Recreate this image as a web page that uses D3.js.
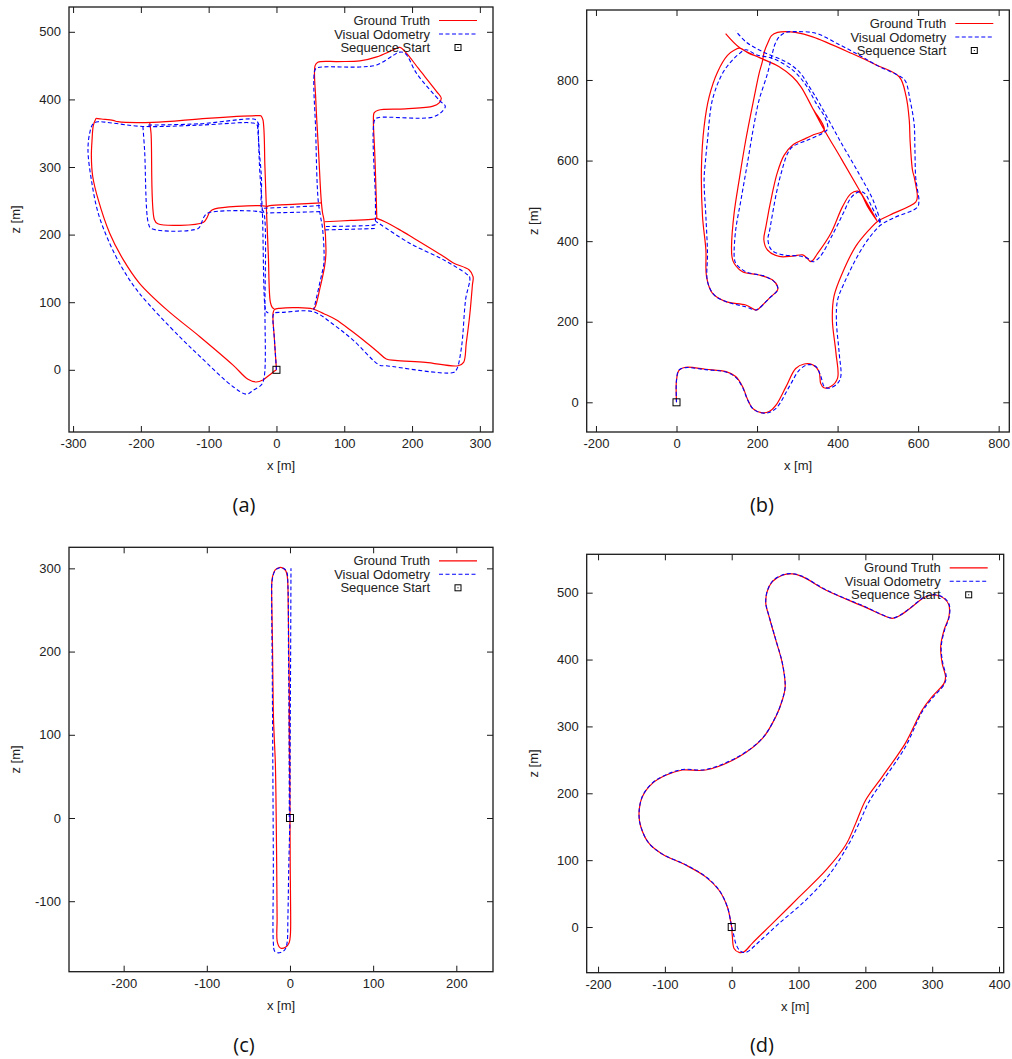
<!DOCTYPE html>
<html><head><meta charset="utf-8">
<script src="https://cdn.jsdelivr.net/npm/d3@7"></script>
<style>
body{margin:0;background:#fff;}
svg text{font-family:"Liberation Sans",Arial,sans-serif;}
</style></head>
<body><svg id="c" width="1012" height="1059"></svg>
<script>
// ---------- DATA ----------
const legendLabels = ["Ground Truth", "Visual Odometry", "Sequence Start"];
const captions = ["(a)", "(b)", "(c)", "(d)"];
const xTicksA = [-300,-200,-100,0,100,200,300], yTicksA = [0,100,200,300,400,500];
const xTicksB = [-200,0,200,400,600,800],       yTicksB = [0,200,400,600,800];
const xTicksC = [-200,-100,0,100,200],          yTicksC = [-100,0,100,200,300];
const xTicksD = [-200,-100,0,100,200,300,400],  yTicksD = [0,100,200,300,400,500];

// (a) ground truth polylines [x, z]
const gtA = [
 [[0,0],[-3,45],[-5,84],[-3,89],[5,91],[30,92],[54,90],[70,83],[88,74],[110,58],[128,44],[150,26],[162,16],[175,14],[220,11],[268,6],[276,11],[280,40],[285,80],[289,125],[290,138],[284,148],[261,158],[246,168],[202,195],[182,207],[160,219],[148,224]],
 [[148,224],[143,223],[110,221],[71,219]],
 [[148,224],[147,260],[145,320],[143,370],[144,380],[150,384],[190,386],[231,390],[240,395],[243,402],[236,412],[210,445],[192,468],[182,477],[172,473],[148,463],[123,457],[90,456],[61,455],[57,450],[58,400],[62,325],[66,251],[68,232],[70,222],[73,173],[71,153],[64,120],[57,93],[54,90]],
 [[66,247],[30,245],[-10,243],[-15,241]],
 [[-23,376],[-20,370],[-17,300],[-15,243],[-12,170],[-9,100],[-6,92],[-3,90]],
 [[-266,372],[-258,371],[-241,369],[-234,367],[-182,366],[-103,372],[-30,376],[-23,376]],
 [[-187,366],[-185,350],[-180,222],[-175,216],[-108,218],[-103,224],[-98,234],[-91,238],[-25,243],[-15,242]],
 [[-266,372],[-270,362],[-272,340],[-273,316],[-271,286],[-263,252],[-246,202],[-226,163],[-202,128],[-162,89],[-113,49],[-64,7],[-42,-14],[-30,-18],[-20,-15],[-7,-5],[0,0]]
];
// (a) visual odometry polylines
const voA = [
 [[0,0],[-3,45],[-5,80],[-3,84],[10,85],[54,86],[84,67],[113,44],[152,7],[162,6],[261,-4],[266,1],[273,34],[279,104],[285,137],[280,142],[246,163],[197,187],[152,216],[146,220]],
 [[146,215],[143,214],[71,212]],
 [[146,220],[146,251],[145,370],[150,373],[231,374],[246,384],[249,390],[241,398],[207,438],[190,468],[182,470],[172,465],[148,451],[123,448],[61,447],[57,444],[58,350],[61.5,251],[65,227],[68,209],[70,158],[66,138],[55,89]],
 [[145,209],[110,208],[71,207]],
 [[64,243],[30,241],[-20,239]],
 [[64,234],[30,233],[-15,232]],
 [[-27,365],[-25,301],[-21,239],[-17,94],[-15,86],[-12,84]],
 [[-28,362],[-25,320],[-22,281],[-22,239],[-18.4,232],[-17,91],[-18,-10],[-22,-22],[-34,-30],[-44,-36],[-64,-25],[-113,20],[-143,49],[-202,113],[-226,148],[-246,187],[-263,232],[-273,281],[-278,325],[-275.5,350],[-270.5,364],[-263,367],[-246,365.5],[-197,360],[-113,362],[-34,365],[-28.5,362],[-27,355]],
 [[-189,362],[-113,364],[-34,371],[-29.5,369],[-25.6,362]],
 [[-197,360],[-194.5,325],[-189,217],[-184.5,209],[-115.6,209],[-110.7,217],[-107,226],[-101,232],[-25,234],[-20,232]]
];

// (b)
const gtB = [[
 [0,0],[0,55],[6.6,80],[23,87],[73,82],[123,76],[147,64],[164,39],[177,6],[189,-15],[213,-26],[230,-23],[247,-7],[272,39],[296,84],[317,95],[338,93],[354,76],[358,47],[366,36],[383,39],[400,60],[396,122],[387,205],[391,263],[412,321],[445,387],[480,430],[499,449],
 [530,465],[594,497],[598,510],[590,560],[586,576],[580,650],[578,700],[570,760],[553,808],
 [495,838],[437,865],[338,907],[295,918],[272,920],[251,918],[236,910],[228,895],[218,870],[213,845],[205,816],[193,758],[172,651],[155.6,552],[143,469],[136.6,386],[138,360],[143,345],[164,324],[205,316],[238,304],[251,287],[251,279],[230,258],[205,233],[197,229],[172,241.5],[122.5,250],[89,271],[74.5,312],[73,378],[64.6,461],[62,585],[68.5,684],[81,758],[102,820],[126.6,861],[145,875],[157,879],[180,866],[205,856],[255,833],[288,808],[309,783],[338,730],[367,676],
 [340,664],[321,655],[288,638],[267,613],[250,569],[238,519],[222,436],[217,403],[226,378],[255,362],[288,363],[313,366],[322,360],[334,349],[350,369],[383,419],[412,485],[433,518],[450,524],[458,518],[475,485],[499,449],
 [454,527],[410,603],[367,676],[338,730],[309,783],[288,808],[255,833],[205,856],[157,880],[122,915]
]];
const voB = [[
 [0,0],[0,55],[6,80],[23,86],[73,81],[123,75],[147,62],[164,37],[177,5],[192,-18],[222,-27],[247,-15],[280,39],[305,80],[325.5,93],[346,89],[358.5,64],[367,39],[379,35],[400,47],[408,64],[404,122],[397,205],[400,254],[416,295],[453,369],[480,410],[507,440],
 [540,458],[598,484],[602,500],[598,530],[594,558],[592,630],[590,692],[580,750],[569,796],[557,808],
 [500,835],[453,862],[400,890],[346,916],[300,920],[271.5,918],[255,907],[245,890],[238,866],[226,816],[205,750],[193,692],[176,593],[160,502],[147,428],[143,370],[144,355],[147,345],[172,324],[222,312],[247,295],[251,279],[230,258],[205,233],[197,229],[172,237],[122.5,250],[93.5,266.5],[77,299.5],[77,370],[73,461],[68.5,552],[72,600],[77,651],[89,750],[114,816],[135,845],[152,862],[172,875],[200,862],[238,854],[288,825],[321,788],[345,745],[371,702],
 [375,678],[363,668],[326,651],[289,635],[276.5,619],[260,569],[248,519],[231.5,428],[227,403],[236,378],[265,366],[306,363],[326.5,357],[339,349],[356,361],[389,419],[414,469],[435,510],[455.6,523],[468,518],[485,485],[507,444],
 [488,502],[455,564],[405,651],[355,742],[330,783],[305,820],[272,845],[214,870],[172,895],[147,922]
]];

// (c)
const gtC = [[
 [0,0],[-0.3,80],[-0.8,146],[-2,246],[-3.2,290],[-5,297],[-8,300],[-12.8,301],[-18,298],[-21,290],[-22,280],[-22,266],[-21,206],[-20,126],[-19,98],[-17.6,66],[-16,-54],[-15.5,-120],[-15,-150],[-11,-156.5],[-5,-155],[-1,-150],[0.5,-140],[0.8,-114],[0.3,-60],[0,0],[-0.5,60],[-1,130]
]];
const voC = [
 [[0,0],[-1.5,-60],[-2.5,-120],[-3.5,-150],[-6,-158],[-10,-161],[-15,-162],[-18.5,-160],[-20,-150],[-20,-60],[-20.5,40],[-21,126],[-21.5,200],[-22,266],[-21.5,285],[-18,297],[-13,300.5],[-8,300],[-4,296],[-2.5,280],[-1.8,200],[-1.2,120],[-0.8,0]],
 [[0,0],[0.3,100],[0.8,200],[1.2,300]]
];

// (d)
const gtD = [[
 [0,0],[1,-14.5],[3.5,-32],[11,-38],[18.5,-37],[31,-24],[61,5.5],[101,45],[141,85],[170.6,122.6],[185.5,155],[200.5,190],[225.4,225],[260,275],[285,324.5],[300,344.5],[317.7,364.4],[320,374],[315,394],[312.7,419],[317.7,444],[325,464],[325,481.6],[317.7,491.5],[305,496.5],[290,494],[270,479],[253,466.6],[240,461.6],[225.4,466.6],[200.5,478],[140.6,504],[105.7,524],[90.8,528],[75.8,526],[60.8,516.5],[53,501.5],[51,484],[56,464],[66,429],[75.8,394],[80,359],[75.8,339.5],[66,314.6],[46,282],[11,254.7],[-39,234.8],[-74,234.8],[-98.8,227],[-118.7,214.9],[-133.7,195],[-138.7,170],[-136,150],[-123.7,125],[-103.7,109],[-68.8,92.7],[-39,75],[-19,55],[-6.5,30],[-1.5,8],[0,0]
]];
const voD = [[
 [0,0],[2.5,-9.5],[6,-24.4],[11,-34],[17,-38],[23.4,-37],[41,-22],[71,5.5],[110.7,40],[145.6,77.8],[175.6,125],[190.5,155],[205.5,187.4],[230.4,224.8],[260,269.7],[285,322],[300,342],[318,363],[321,374],[316,394],[313.5,419],[318.5,444],[325.5,464],[325.5,482],[318,492],[305,497],[290,494.5],[270,479.5],[253,467],[240,462],[225.4,467],[200.5,478.5],[140.6,504.5],[105.7,524.5],[90.8,528.5],[75.8,526.5],[60.8,517],[53,502],[51,484.5],[56,464.5],[66,429.5],[75.8,394.5],[80,359.5],[75.8,340],[66,315],[46,282.5],[11,255.5],[-39,235.5],[-74,235.5],[-98.8,227.5],[-118.7,215.5],[-133.7,195.5],[-138.7,170],[-136,150],[-123.7,125],[-103.7,109],[-68.8,93],[-39,75.5],[-19,55.5],[-6.5,30],[-1.5,8],[0,0]
]];

// ---------- LAYOUT ----------
const panels = [
 {box:[69,7,493,432],        xd:[-306,319.4],   yd:[-92,536.7],    xt:xTicksA, yt:yTicksA, gt:gtA, vo:voA, cap:[244,512]},
 {box:[586.7,10,1009.3,432], xd:[-223,826.4],   yd:[-73.7,973.7],  xt:xTicksB, yt:yTicksB, gt:gtB, vo:voB, cap:[762,512]},
 {box:[69,547.3,493,971.7],  xd:[-265.7,244.1], yd:[-184.7,325.3], xt:xTicksC, yt:yTicksC, gt:gtC, vo:voC, cap:[244,1052]},
 {box:[586.7,554.3,1003.7,972.7], xd:[-217,407], yd:[-68.3,557.4], xt:xTicksD, yt:yTicksD, gt:gtD, vo:voD, cap:[762,1052]}
];

const svg = d3.select("#c");
const ink = "#1a1a1a";
const fmt = d => String(d);   // plain hyphen-minus like the reference

panels.forEach((p, i) => {
  const [x0,y0,x1,y1] = p.box;
  const x = d3.scaleLinear().domain(p.xd).range([x0,x1]);
  const y = d3.scaleLinear().domain(p.yd).range([y1,y0]);
  const g = svg.append("g");
  const cid = "clip" + i;
  g.append("clipPath").attr("id", cid).append("rect")
    .attr("x", x0).attr("y", y0).attr("width", x1-x0).attr("height", y1-y0);

  const styleAxis = sel => {
    sel.select(".domain").remove();
    sel.selectAll(".tick line").attr("stroke", ink).attr("stroke-width", 1);
    sel.selectAll(".tick text").attr("fill", "#222").style("font-size", "13px")
       .style("font-family", "'Liberation Sans', Arial, sans-serif");
  };
  g.append("g").attr("transform", `translate(0,${y1})`)
    .call(d3.axisBottom(x).tickValues(p.xt).tickSize(-6).tickPadding(7).tickFormat(fmt)).call(styleAxis);
  g.append("g").attr("transform", `translate(0,${y0})`)
    .call(d3.axisTop(x).tickValues(p.xt).tickSize(-6).tickFormat("")).call(styleAxis);
  g.append("g").attr("transform", `translate(${x0},0)`)
    .call(d3.axisLeft(y).tickValues(p.yt).tickSize(-6).tickPadding(8).tickFormat(fmt)).call(styleAxis);
  g.append("g").attr("transform", `translate(${x1},0)`)
    .call(d3.axisRight(y).tickValues(p.yt).tickSize(-6).tickFormat("")).call(styleAxis);

  const line = d3.line().x(d => x(d[0])).y(d => y(d[1])).curve(d3.curveCatmullRom.alpha(0.5));
  const plot = g.append("g").attr("clip-path", `url(#${cid})`);
  p.gt.forEach(pl => plot.append("path").attr("d", line(pl))
    .attr("fill","none").attr("stroke","#ff0000").attr("stroke-width",1.2).attr("stroke-linejoin","round"));
  p.vo.forEach(pl => plot.append("path").attr("d", line(pl))
    .attr("fill","none").attr("stroke","#0000ff").attr("stroke-width",1.1).attr("stroke-dasharray","4,2.5"));

  const sx = x(0), sy = y(0);
  plot.append("rect").attr("x", sx-3.5).attr("y", sy-3.5).attr("width",7).attr("height",7)
    .attr("fill","none").attr("stroke","#000").attr("stroke-width",1);

  g.append("rect").attr("x", x0).attr("y", y0).attr("width", x1-x0).attr("height", y1-y0)
    .attr("fill","none").attr("stroke", ink).attr("stroke-width", 1.3);

  g.append("text").attr("x", (x0+x1)/2).attr("y", y1+38).attr("text-anchor","middle")
    .attr("fill","#222").style("font-size","13px").text("x [m]");
  g.append("text").attr("transform", `translate(${x0-49},${(y0+y1)/2}) rotate(-90)`)
    .attr("text-anchor","middle").attr("fill","#222").style("font-size","13px").text("z [m]");

  const tx = x1 - 63, lx0 = x1 - 54, lx1 = x1 - 16;
  const rows = [y0+13.5, y0+27, y0+40.5];
  legendLabels.forEach((t, k) => {
    g.append("text").attr("x", tx).attr("y", rows[k]+4.5).attr("text-anchor","end")
      .attr("fill","#222").style("font-size","13px").text(t);
  });
  g.append("line").attr("x1",lx0).attr("x2",lx1).attr("y1",rows[0]).attr("y2",rows[0])
    .attr("stroke","#ff0000").attr("stroke-width",1.2);
  g.append("line").attr("x1",lx0).attr("x2",lx1).attr("y1",rows[1]).attr("y2",rows[1])
    .attr("stroke","#0000ff").attr("stroke-width",1.1).attr("stroke-dasharray","4,2.5");
  const mx = (lx0+lx1)/2;
  g.append("rect").attr("x", mx-3).attr("y", rows[2]-3).attr("width",6).attr("height",6)
    .attr("fill","none").attr("stroke","#000").attr("stroke-width",1);
  g.append("rect").attr("x", mx-0.5).attr("y", rows[2]-0.5).attr("width",1).attr("height",1).attr("fill","#000");

  svg.append("text").attr("x", p.cap[0]).attr("y", p.cap[1]).attr("text-anchor","middle")
    .attr("fill","#111").style("font-family","'Open Sans', 'Noto Sans', sans-serif").style("font-size","20px")
    .text(captions[i]);
});
</script></body></html>
